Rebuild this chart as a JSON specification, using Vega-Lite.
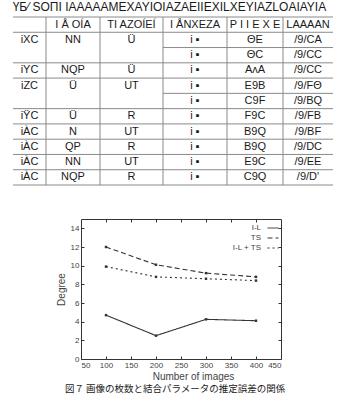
{
  "$schema": "https://vega.github.io/schema/vega-lite/v6.json",
  "width": 200,
  "height": 140,
  "autosize": {"type": "none"},
  "padding": {"left": 81, "top": 219, "right": 61, "bottom": 36},
  "background": "#ffffff",
  "config": {
    "view": {"stroke": "#333333", "strokeWidth": 1},
    "font": "Liberation Sans",
    "axis": {"grid": false, "domain": false, "tickColor": "#333333", "labelColor": "#444444", "labelFontSize": 8, "titleFontSize": 10, "titleFontWeight": "normal", "titleColor": "#444444", "labelFont": "Liberation Sans", "titleFont": "Liberation Sans"}
  },
  "datasets": {
    "series": [
      {"images": 100, "degree": 4.7, "method": "I-L"},
      {"images": 200, "degree": 2.5, "method": "I-L"},
      {"images": 300, "degree": 4.25, "method": "I-L"},
      {"images": 400, "degree": 4.1, "method": "I-L"},
      {"images": 100, "degree": 12.0, "method": "TS"},
      {"images": 200, "degree": 10.1, "method": "TS"},
      {"images": 300, "degree": 9.2, "method": "TS"},
      {"images": 400, "degree": 8.8, "method": "TS"},
      {"images": 100, "degree": 9.9, "method": "I-L + TS"},
      {"images": 200, "degree": 8.8, "method": "I-L + TS"},
      {"images": 300, "degree": 8.6, "method": "I-L + TS"},
      {"images": 400, "degree": 8.4, "method": "I-L + TS"}
    ],
    "cells": [
      {"r": 0, "c": 2, "t": "I Å OÍA"},
      {"r": 0, "c": 3, "t": "TI AZOÍEÍ"},
      {"r": 0, "c": 4, "t": "I ÅNXEZA"},
      {"r": 0, "c": 5, "t": "P I I E X E"},
      {"r": 0, "c": 6, "t": "LAAAAN"},
      {"r": 1, "c": 1, "t": "iXC"}, {"r": 1, "c": 2, "t": "NN"}, {"r": 1, "c": 3, "t": "Ü"}, {"r": 1, "c": 4, "t": "i ▪"}, {"r": 1, "c": 5, "t": "ΘE"}, {"r": 1, "c": 6, "t": "/9/CA"},
      {"r": 2, "c": 4, "t": "i ▪"}, {"r": 2, "c": 5, "t": "ΘC"}, {"r": 2, "c": 6, "t": "/9/CC"},
      {"r": 3, "c": 1, "t": "iYC"}, {"r": 3, "c": 2, "t": "NQP"}, {"r": 3, "c": 3, "t": "Ü"}, {"r": 3, "c": 4, "t": "i ▪"}, {"r": 3, "c": 5, "t": "AᴧA"}, {"r": 3, "c": 6, "t": "/9/CC"},
      {"r": 4, "c": 1, "t": "iZC"}, {"r": 4, "c": 2, "t": "Ü"}, {"r": 4, "c": 3, "t": "UT"}, {"r": 4, "c": 4, "t": "i ▪"}, {"r": 4, "c": 5, "t": "E9B"}, {"r": 4, "c": 6, "t": "/9/FΘ"},
      {"r": 5, "c": 4, "t": "i ▪"}, {"r": 5, "c": 5, "t": "C9F"}, {"r": 5, "c": 6, "t": "/9/BQ"},
      {"r": 6, "c": 1, "t": "iŸC"}, {"r": 6, "c": 2, "t": "Ü"}, {"r": 6, "c": 3, "t": "R"}, {"r": 6, "c": 4, "t": "i ▪"}, {"r": 6, "c": 5, "t": "F9C"}, {"r": 6, "c": 6, "t": "/9/FB"},
      {"r": 7, "c": 1, "t": "iÀC"}, {"r": 7, "c": 2, "t": "N"}, {"r": 7, "c": 3, "t": "UT"}, {"r": 7, "c": 4, "t": "i ▪"}, {"r": 7, "c": 5, "t": "B9Q"}, {"r": 7, "c": 6, "t": "/9/BF"},
      {"r": 8, "c": 1, "t": "iÀC"}, {"r": 8, "c": 2, "t": "QP"}, {"r": 8, "c": 3, "t": "R"}, {"r": 8, "c": 4, "t": "i ▪"}, {"r": 8, "c": 5, "t": "B9Q"}, {"r": 8, "c": 6, "t": "/9/DC"},
      {"r": 9, "c": 1, "t": "iÀC"}, {"r": 9, "c": 2, "t": "NN"}, {"r": 9, "c": 3, "t": "UT"}, {"r": 9, "c": 4, "t": "i ▪"}, {"r": 9, "c": 5, "t": "E9C"}, {"r": 9, "c": 6, "t": "/9/EE"},
      {"r": 10, "c": 1, "t": "iÀC"}, {"r": 10, "c": 2, "t": "NQP"}, {"r": 10, "c": 3, "t": "R"}, {"r": 10, "c": 4, "t": "i ▪"}, {"r": 10, "c": 5, "t": "C9Q"}, {"r": 10, "c": 6, "t": "/9/D'"}
    ],
    "hlines": [
      {"r": -0.5, "c1": 0.5, "c2": 6.5},
      {"r": 0.5, "c1": 0.5, "c2": 6.5},
      {"r": 1.5, "c1": 3.5, "c2": 6.5},
      {"r": 2.5, "c1": 0.5, "c2": 6.5},
      {"r": 3.5, "c1": 0.5, "c2": 6.5},
      {"r": 4.5, "c1": 3.5, "c2": 6.5},
      {"r": 5.5, "c1": 0.5, "c2": 6.5},
      {"r": 6.5, "c1": 0.5, "c2": 6.5},
      {"r": 7.5, "c1": 0.5, "c2": 6.5},
      {"r": 8.5, "c1": 0.5, "c2": 6.5},
      {"r": 9.5, "c1": 0.5, "c2": 6.5},
      {"r": 10.5, "c1": 0.5, "c2": 6.5}
    ],
    "vlines": [
      {"c": 1.5, "r1": -0.5, "r2": 10.5},
      {"c": 2.5, "r1": -0.5, "r2": 10.5},
      {"c": 3.5, "r1": -0.5, "r2": 10.5},
      {"c": 4.5, "r1": -0.5, "r2": 10.5},
      {"c": 5.5, "r1": -0.5, "r2": 10.5}
    ],
    "captionTop": [
      {"r": -1.15, "c": 3.6, "t": "ҮБ⁄  SOΠI IAAAAAMEXAYIOIAZAEIIEXILXEYIAZLOAIAYIA"}
    ],
    "captionBottom": [
      {"r": 23.85, "c": 3.69, "t": "図７  画像の枚数と結合パラメータの推定誤差の関係"}
    ]
  },
  "layer": [
    {
      "data": {"name": "series"},
      "encoding": {
        "x": {"field": "images", "type": "quantitative", "scale": {"domain": [50, 450], "nice": false},
              "axis": {"orient": "bottom", "values": [50, 100, 150, 200, 250, 300, 350, 400, 450], "tickSize": -3, "labelPadding": 5, "title": "Number of images", "titlePadding": 2, "titleX": 112}},
        "y": {"field": "degree", "type": "quantitative", "scale": {"domain": [0, 15], "nice": false},
              "axis": {"orient": "left", "values": [0, 2, 4, 6, 8, 10, 12, 14], "tickSize": -3, "labelPadding": 5, "title": "Degree", "titlePadding": 4}}
      },
      "layer": [
        {
          "mark": {"type": "line", "color": "#333333", "strokeWidth": 1.1},
          "encoding": {
            "strokeDash": {"field": "method", "type": "nominal",
              "scale": {"domain": ["I-L", "TS", "I-L + TS"], "range": [[1, 0], [5, 3], [2, 3]]},
              "legend": {"orient": "none", "legendX": 186, "legendY": 3, "title": null, "symbolType": "stroke", "symbolSize": 121, "symbolStrokeWidth": 1, "symbolStrokeColor": "#333333", "labelAlign": "right", "labelOffset": -18, "labelFontSize": 8, "labelColor": "#444444", "rowPadding": -4.5, "padding": 0}}
          }
        },
        {"mark": {"type": "square", "size": 6, "color": "#333333", "opacity": 1}}
      ]
    },
    {
      "data": {"name": "series"},
      "mark": {"type": "point", "opacity": 0},
      "encoding": {
        "x": {"field": "images", "type": "quantitative", "scale": {"domain": [50, 450], "nice": false},
              "axis": {"orient": "top", "values": [100, 150, 200, 250, 300, 350, 400], "labels": false, "tickSize": -3, "title": null}},
        "y": {"field": "degree", "type": "quantitative", "scale": {"domain": [0, 15], "nice": false},
              "axis": {"orient": "right", "values": [2, 4, 6, 8, 10, 12, 14], "labels": false, "tickSize": -3, "title": null}}
      }
    },
    {
      "layer": [
        {
          "data": {"name": "hlines"},
          "mark": {"type": "rule", "color": "#8a8a8a", "strokeWidth": 1},
          "encoding": {
            "x": {"field": "c1", "type": "quantitative", "scale": {"domain": [0.5, 1.5, 2.5, 3.5, 4.5, 5.5, 6.5], "range": [-68, -35, 19, 82, 146, 202, 252], "nice": false, "zero": false}, "axis": null},
            "x2": {"field": "c2"},
            "y": {"field": "r", "type": "quantitative", "scale": {"domain": [-0.5, 10.5], "range": [-202, -34], "nice": false, "zero": false}, "axis": null}
          }
        },
        {
          "data": {"name": "vlines"},
          "mark": {"type": "rule", "color": "#8a8a8a", "strokeWidth": 1},
          "encoding": {
            "x": {"field": "c", "type": "quantitative", "axis": null},
            "y": {"field": "r1", "type": "quantitative", "axis": null},
            "y2": {"field": "r2"}
          }
        },
        {
          "data": {"name": "cells"},
          "mark": {"type": "text", "font": "Liberation Sans", "fontSize": 11, "color": "#1a1a1a"},
          "encoding": {
            "x": {"field": "c", "type": "quantitative", "axis": null},
            "y": {"field": "r", "type": "quantitative", "axis": null},
            "text": {"field": "t"}
          }
        },
        {
          "data": {"name": "captionTop"},
          "mark": {"type": "text", "font": "Liberation Sans", "fontSize": 12, "color": "#1a1a1a"},
          "encoding": {
            "x": {"field": "c", "type": "quantitative", "axis": null},
            "y": {"field": "r", "type": "quantitative", "axis": null},
            "text": {"field": "t"}
          }
        },
        {
          "data": {"name": "captionBottom"},
          "mark": {"type": "text", "font": "Noto Sans CJK JP", "fontSize": 9.5, "color": "#1a1a1a"},
          "encoding": {
            "x": {"field": "c", "type": "quantitative", "axis": null},
            "y": {"field": "r", "type": "quantitative", "axis": null},
            "text": {"field": "t"}
          }
        }
      ]
    }
  ],
  "resolve": {"scale": {"x": "independent", "y": "independent"}}
}
